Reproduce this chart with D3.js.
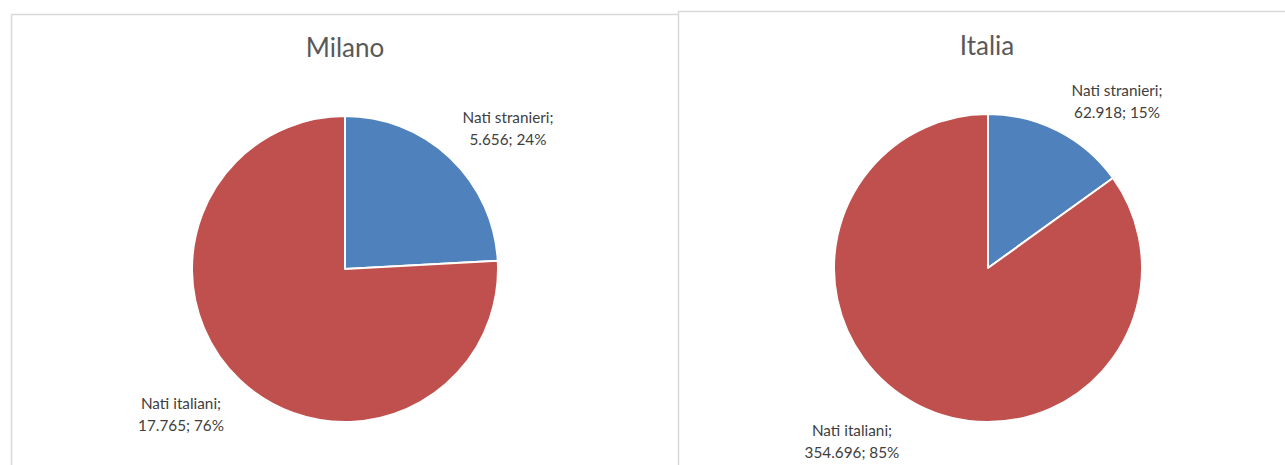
<!DOCTYPE html>
<html><head><meta charset="utf-8">
<script src="https://cdn.jsdelivr.net/npm/d3@7"></script>
<style>body{margin:0;background:#fff}svg{display:block}</style>
</head><body>
<svg id="c" width="1285" height="465"></svg>
<script>
const categories = ["Nati stranieri", "Nati italiani"];
const milanoValues = [5656, 17765];
const italiaValues = [62918, 354696];
const milanoLabels = ["5.656; 24%", "17.765; 76%"];
const italiaLabels = ["62.918; 15%", "354.696; 85%"];
const colors = ["#4F81BD", "#C0504D"];

const svg = d3.select("#c");
const font = "Lato, 'Open Sans', sans-serif";

// panels
svg.append("rect").attr("x",11.5).attr("y",14.5).attr("width",680).attr("height",470)
  .attr("fill","#fff").attr("stroke","#d9d9d9").attr("stroke-width",1.5);
svg.append("rect").attr("x",678.5).attr("y",11.5).attr("width",640).attr("height",470)
  .attr("fill","#fff").attr("stroke","#d9d9d9").attr("stroke-width",1.5);

function drawPie(cfg){
  const g = svg.append("g").attr("transform",`translate(${cfg.cx},${cfg.cy})`);
  const pie = d3.pie().sort(null).value(d=>d)(cfg.values);
  const arc = d3.arc().innerRadius(0).outerRadius(cfg.r);
  g.selectAll("path").data(pie).join("path")
    .attr("d",arc).attr("fill",(d,i)=>colors[i])
    .attr("stroke","#fff").attr("stroke-width",2).attr("stroke-linejoin","round");
  svg.append("text").attr("x",cfg.tx).attr("y",cfg.ty).attr("text-anchor","middle")
    .attr("font-family",font).attr("font-size",26).attr("fill","#595959").text(cfg.title);
  cfg.labelPos.forEach((p,i)=>{
    const t = svg.append("text").attr("text-anchor","middle")
      .attr("font-family",font).attr("font-size",15.3).attr("fill","#404040");
    t.append("tspan").attr("x",p[0]).attr("y",p[1]).text(categories[i]+";");
    t.append("tspan").attr("x",p[0]).attr("y",p[1]+22).text(cfg.labels[i]);
  });
}

drawPie({cx:345, cy:269, r:153, values:milanoValues, labels:milanoLabels, title:"Milano",
  tx:345, ty:57, labelPos:[[508,123],[181,409]]});
drawPie({cx:988, cy:268, r:154, values:italiaValues, labels:italiaLabels, title:"Italia",
  tx:987, ty:55, labelPos:[[1117,96],[852,436]]});
</script>
</body></html>
